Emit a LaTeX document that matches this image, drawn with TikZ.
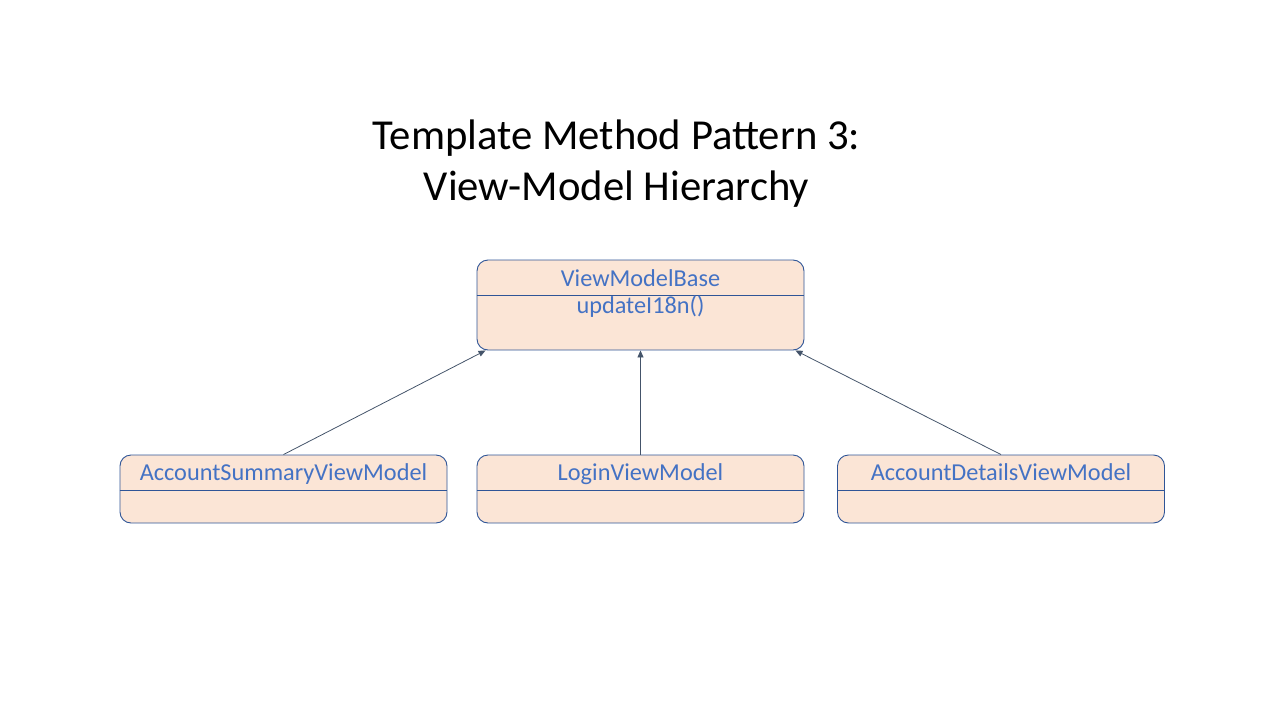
\documentclass[tikz,border=0pt]{standalone}
\usepackage{fontspec}
\setmainfont{Carlito}
\usetikzlibrary{calc,arrows.meta}
\definecolor{boxfill}{HTML}{FBE5D6}
\definecolor{boxline}{HTML}{2F5597}
\definecolor{txt}{HTML}{4472C4}
\definecolor{conn}{HTML}{44546A}
\begin{document}
\begin{tikzpicture}[x=1pt,y=-1pt,
  cls/.style={draw=boxline, fill=boxfill, rounded corners=11pt, line width=0.9pt,
              minimum width=327pt, inner sep=0pt},
  lbl/.style={text=txt, font=\fontsize{24.3}{29}\selectfont, inner sep=0pt, anchor=base},
  divider/.style={draw=boxline, line width=0.9pt},
  inherit/.style={draw=conn, line width=0.8pt, -{Triangle[length=7pt,width=6pt]}},
  ttl/.style={font=\fontsize{42.7}{51}\selectfont, text=black, inner sep=0pt, anchor=base}]
\useasboundingbox (0,0) rectangle (1280,720);
\node[ttl] (title1) at (616.5,149) {Template Method Pattern 3:};
\node[ttl] (title2) at (616.5,200) {View-Model Hierarchy};

\node[cls, minimum height=90pt] (base) at (640.5,305) {};
\node[cls, minimum height=68pt] (acc) at (283.5,489) {};
\node[cls, minimum height=68pt] (login) at (640.5,489) {};
\node[cls, minimum height=68pt] (det) at (1001,489) {};

\draw[divider] (base.west |- 0,295) -- (base.east |- 0,295);
\draw[divider] (acc.west |- 0,490) -- (acc.east |- 0,490);
\draw[divider] (login.west |- 0,490) -- (login.east |- 0,490);
\draw[divider] (det.west |- 0,490) -- (det.east |- 0,490);

\node[lbl] (baseName) at (640.5,286) {ViewModelBase};
\node[lbl] (baseOp) at (640.5,313) {updateI18n()};
\node[lbl] (accName) at (283.5,480) {AccountSummaryViewModel};
\node[lbl] (loginName) at (640.5,480) {LoginViewModel};
\node[lbl] (detName) at (1001,480) {AccountDetailsViewModel};

\coordinate (baseL) at ($(base.south west)+(9,0)$);
\coordinate (baseR) at ($(base.south east)+(-9,0)$);
\draw[inherit] (acc.north) -- (baseL);
\draw[inherit] (login.north) -- (base.south);
\draw[inherit] (det.north) -- (baseR);
\end{tikzpicture}
\end{document}
